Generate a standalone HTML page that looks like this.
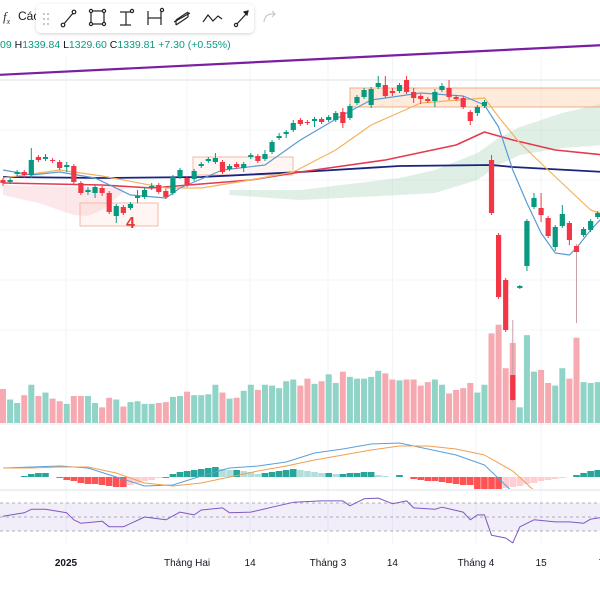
<!DOCTYPE html>
<html><head><meta charset="utf-8">
<style>
html,body{margin:0;padding:0;background:#fff;width:600px;height:600px;overflow:hidden;font-family:"Liberation Sans",sans-serif;}
svg{display:block}
</style></head>
<body>
<svg id="chart" width="600" height="600" viewBox="0 0 600 600" xmlns="http://www.w3.org/2000/svg">
  <defs>
    <clipPath id="macdClip"><rect x="0" y="425" width="600" height="64"/></clipPath>
    <clipPath id="mainClip"><rect x="0" y="56" width="600" height="366"/></clipPath>
    <filter id="sh" x="-10%" y="-30%" width="120%" height="160%"><feDropShadow dx="0" dy="1" stdDeviation="1.5" flood-color="#000" flood-opacity="0.18"/></filter>
  </defs>
  <g id="grid"></g>
  <g id="clouds" clip-path="url(#mainClip)"></g>
  <g id="boxes"></g>
  <g id="volume"></g>
  <g id="mas" clip-path="url(#mainClip)"></g>
  <g id="candles"></g>
  <g id="macd"></g>
  <g id="rsi"></g>
  <g id="xaxis"></g>
  <g id="header">
    <text x="3" y="21" font-family="Liberation Serif" font-style="italic" font-size="13" fill="#333">f<tspan font-size="8" dy="3">x</tspan></text>
    <text x="18" y="20" font-size="12" fill="#131722">Các</text>
    <g>
      <rect x="36" y="4" width="218" height="29" rx="5" fill="#fff" filter="url(#sh)"/>
      <g fill="#b2b5be"><circle cx="44" cy="14" r="1"/><circle cx="48" cy="14" r="1"/><circle cx="44" cy="19" r="1"/><circle cx="48" cy="19" r="1"/><circle cx="44" cy="24" r="1"/><circle cx="48" cy="24" r="1"/></g>
      <g stroke="#222" stroke-width="1.2" fill="none">
        <g><line x1="63" y1="25" x2="74" y2="12"/><circle cx="63" cy="25" r="1.8" fill="#fff"/><circle cx="74" cy="12" r="1.8" fill="#fff"/></g>
        <g><rect x="91" y="11" width="13" height="13"/><circle cx="91" cy="11" r="1.6" fill="#fff"/><circle cx="104" cy="11" r="1.6" fill="#fff"/><circle cx="91" cy="24" r="1.6" fill="#fff"/><circle cx="104" cy="24" r="1.6" fill="#fff"/></g>
        <g><line x1="120" y1="12" x2="131" y2="12"/><line x1="120" y1="25" x2="131" y2="25"/><line x1="126" y1="12" x2="126" y2="25"/><circle cx="132" cy="11" r="1.6" fill="#fff"/></g>
        <g><line x1="148" y1="11" x2="148" y2="25"/><line x1="161" y1="11" x2="161" y2="25"/><line x1="148" y1="18" x2="161" y2="18"/><circle cx="162" cy="10" r="1.6" fill="#fff"/></g>
        <g><path d="M176 20 L188 12 M176 25 L188 17 M176 20 L176 25 M188 12 L188 17"/><path d="M174 22 L190 13"/></g>
        <g><path d="M203 22 L208 15 L213 21 L218 16 L222 19"/></g>
        <g><line x1="236" y1="25" x2="247" y2="13"/><circle cx="236" cy="25" r="1.6" fill="#fff"/><path d="M244 12 L248 11 L247 15Z" fill="#222"/></g>
      </g>
    </g>
    <path d="M264 22 Q265 14 272 14 L275 14 M272 11 L275 14 L272 17" stroke="#c8cad0" stroke-width="1.2" fill="none"/>
    <text x="0" y="48" font-size="10.5" fill="#089981">09 <tspan fill="#131722">H</tspan>1339.84 <tspan fill="#131722">L</tspan>1329.60 <tspan fill="#131722">C</tspan>1339.81 +7.30 (+0.55%)</text>
  </g>
</svg>
<script>
const NS="http://www.w3.org/2000/svg";
// ---- candle data ----
const opens =[1220,1218,1226,1228,1225,1243,1241,1240,1238,1233,1234,1217,1208,1207,1212,1207,1184,1193,1192,1202,1203,1212,1215,1209,1207,1223,1222,1221,1234,1239,1238,1238,1231,1236,1232,1243,1244,1241,1248,1262,1266,1270,1280,1278,1279,1281,1280,1280,1288,1282,1297,1303,1295,1313,1315,1309,1309,1320,1308,1304,1301,1299,1310,1312,1303,1302,1288,1287,1294,1240,1165,1120,1025,1112,1134,1193,1192,1182,1153,1174,1177,1154,1165,1170,1183];
const highs =[1222,1222,1230,1230,1252,1245,1246,1242,1240,1238,1236,1219,1213,1215,1214,1209,1196,1195,1198,1210,1212,1217,1217,1211,1225,1232,1224,1231,1238,1243,1247,1240,1236,1238,1238,1247,1246,1250,1260,1267,1270,1280,1282,1280,1283,1283,1285,1289,1292,1296,1305,1312,1313,1324,1324,1312,1317,1324,1312,1306,1303,1311,1317,1320,1305,1304,1290,1295,1300,1245,1167,1122,1080,1115,1181,1207,1207,1184,1175,1195,1179,1156,1173,1181,1189];
const lows  =[1214,1216,1224,1222,1222,1238,1239,1237,1230,1228,1216,1205,1205,1202,1204,1186,1177,1185,1190,1197,1201,1210,1206,1201,1205,1221,1213,1219,1232,1237,1236,1226,1229,1231,1228,1241,1237,1239,1246,1260,1262,1268,1274,1275,1273,1276,1278,1278,1272,1280,1295,1301,1292,1311,1302,1304,1307,1306,1297,1296,1297,1293,1308,1300,1299,1291,1275,1284,1292,1185,1101,1068,998,1111,1129,1191,1178,1162,1149,1172,1155,1077,1163,1168,1181];
const closes=[1217,1220,1228,1225,1240,1240,1243,1239,1232,1235,1218,1207,1210,1213,1207,1188,1194,1187,1196,1204,1210,1214,1208,1203,1223,1230,1215,1229,1236,1241,1242,1228,1234,1233,1236,1245,1239,1246,1258,1264,1268,1277,1276,1277,1281,1278,1283,1287,1277,1294,1303,1310,1311,1317,1304,1307,1315,1308,1302,1301,1299,1308,1314,1303,1301,1293,1279,1293,1298,1187,1103,1070,1000,1114,1179,1202,1185,1164,1173,1186,1160,1148,1171,1179,1187];
const volumes=[39,27,23,32,44,31,35,28,25,22,31,31,31,23,18,29,27,19,24,25,22,22,23,24,30,31,36,32,32,33,44,35,28,29,37,44,38,44,43,40,48,50,43,51,45,48,56,46,59,53,51,51,53,60,57,50,49,50,50,43,47,50,44,34,38,40,46,35,44,103,113,63,92,18,101,59,61,46,43,63,51,98,47,46,47];
// ---- moving averages (candle index -> price) ----
const ma200Idx=[0,14,28,42,56,69,72,85];
const ma200Val=[1223,1222,1223,1228,1234,1235,1233,1228];
const ma50Idx=[0,14,21,35,42,54,64,68,72,78,85];
const ma50Val=[1217,1215,1212,1220,1228,1240,1255,1268,1260,1250,1245];
const ma20Idx=[0,8,14,23,28,35,41,47,52,59,68,70,73,77,83,85];
const ma20Val=[1222,1230,1224,1212,1212,1220,1228,1250,1275,1297,1302,1283,1257,1230,1190,1185];
const ma10Idx=[0,4,8,13,18,23,25,31,37,42,48,52,59,65,68,70,72,74,76,78,80,81,83,85];
const ma10Val=[1230,1225,1228,1222,1205,1202,1212,1230,1235,1260,1285,1300,1307,1304,1295,1273,1230,1197,1167,1147,1145,1152,1170,1185];
const trendIdx=[-1,85];
const trendVal=[1325,1355];
// ---- cloud ----
const pinkIdx=[0,5,10,12,14,17];
const pinkTop=[1215,1214,1213,1212,1212,1212];
const pinkBot=[1205,1197,1185,1184,1190,1208];
const greenIdx=[32,42,56,61,67,70,73,79,85];
const greenTop=[1210,1210,1222,1230,1247,1262,1273,1287,1297];
const greenBot=[1205,1200,1205,1207,1220,1235,1245,1252,1255];
// ---- MACD ----
const macdHist=[0,0,0,1,3,4,4,0,-1,-3,-4,-6,-7,-7,-8,-9,-10,-10,-8,-6,-4,-3,-1,-1,3,5,6,7,8,9,10,8,7,7,6,5,3,4,5,6,7,8,7,6,5,4,4,3,3,4,4,5,5,2,1,0,2,0,-2,-3,-4,-4,-5,-6,-7,-8,-8,-12,-12,-12,-12,-11,-10,-9,-7,-6,-4,-3,-2,-1,0,2,4,6,7];
const macdIdx=[0,4,8,12,16,20,24,28,32,36,40,44,48,52,56,60,64,68,72,76,85];
const macdLine=[9,10,11,9,0,-9,-8,1,9,11,15,24,28,33,34,28,22,12,-15,-20,-20];
const signalLine=[9,9,10,10,4,-6,-9,-6,0,6,11,17,22,27,31,31,28,22,6,-20,-20];
// ---- RSI ----
const rsiIdx=[0,3,4,6,9,10,11,14,15,17,20,23,25,27,28,31,32,35,38,41,45,48,49,51,53,55,57,58,61,62,65,66,67,68,69,71,72,73,75,78,80,82,83,85];
const rsiVal=[51,56,61,61,56,46,41,44,36,36,50,46,57,53,60,63,56,57,64,71,73,73,66,76,77,69,73,63,61,64,57,46,53,53,24,20,13,36,46,43,43,41,47,50];
// ---- axis labels ----
const xLabels=["2025","Tháng Hai","14","Tháng 3","14","Tháng 4","15","T"];
const xLabelIdx=[8.9,26,34.9,45.9,55,66.8,76,84.6];

// ---- scales ----
const xS=i=>3+i*7.08;
const yP=p=>1400-p;
const yV=v=>423-v*0.87;
const yM=v=>477-v;
const yR=v=>517-(v-50)*0.7;
function el(tag,attrs,parent){const e=document.createElementNS(NS,tag);for(const k in attrs)e.setAttribute(k,attrs[k]);parent.appendChild(e);return e;}
const G=id=>document.getElementById(id);

// grid
const grid=G('grid');
xLabelIdx.forEach(i=>{const l=el('line',{x1:xS(i),x2:xS(i),y1:56,y2:545,stroke:'#f0f3fa','stroke-width':1},grid);

});
[130,180,230,280,330].forEach(y=>{const l=el('line',{x1:0,x2:600,y1:y,y2:y,stroke:'#f3f5fa','stroke-width':1},grid);

});
[[80,'#dfe2ea'],[424,'#eceef3'],[490,'#dfe2ea']].forEach(([y,c])=>{const l=el('line',{x1:0,x2:600,y1:y,y2:y,stroke:c,'stroke-width':1},grid);

});

// clouds
function band(idx,top,bot,fill,name){
  let d='M'+idx.map((i,k)=>xS(i)+' '+yP(top[k])).join(' L');
  for(let k=idx.length-1;k>=0;k--)d+=' L'+xS(idx[k])+' '+yP(bot[k]);
  const p=el('path',{d:d+'Z',fill:fill},G('clouds'));
  
  
}
band(pinkIdx,pinkTop,pinkBot,'rgba(247,190,195,0.35)','cloud-bearish');
band(greenIdx,greenTop,greenBot,'rgba(178,214,190,0.4)','cloud-bullish');

// boxes
const boxes=G('boxes');
const b1=el('rect',{x:80,y:203,width:78,height:23,fill:'rgba(255,205,190,0.18)',stroke:'#f3b8a6','stroke-width':1},boxes);


const b2=el('rect',{x:193,y:157,width:100,height:18,fill:'rgba(255,205,190,0.18)',stroke:'#f3b8a6','stroke-width':1},boxes);


const b3=el('rect',{x:350,y:88,width:260,height:19,fill:'rgba(255,190,140,0.3)',stroke:'#f2ac80','stroke-width':1},boxes);


const t4=el('text',{x:126,y:228,'font-size':16,'font-weight':'bold',fill:'#e53935'},boxes);
t4.textContent='4';



// volume
const n=Math.min(opens.length,closes.length,volumes.length);
for(let i=0;i<n;i++){
  const up=closes[i]>=opens[i];
  const r=el('rect',{x:xS(i)-3,y:yV(volumes[i]),width:6,height:volumes[i]*0.87,fill:up?'#8fd4c7':'#f7a9b1'},G('volume'));
  
  
}

// moving averages
function line(idx,val,ys,color,w,parent,name){
  const pts=idx.map((i,k)=>xS(i)+','+ys(val[k])).join(' ');
  const p=el('polyline',{points:pts,fill:'none',stroke:color,'stroke-width':w,'stroke-linejoin':'round'},parent);
  
  
}
line(ma200Idx,ma200Val,yP,'#1a237e',1.8,G('mas'),'ma-200-line');
line(ma50Idx,ma50Val,yP,'#e53950',1.6,G('mas'),'ma-50-line');
line(ma20Idx,ma20Val,yP,'#f2b35e',1.2,G('mas'),'ma-20-line');
line(ma10Idx,ma10Val,yP,'#5b9bd5',1.2,G('mas'),'ma-10-line');
line(trendIdx,trendVal,yP,'#7b1fa2',2.2,G('header'),'trend-line');

// candles
for(let i=0;i<n;i++){
  const up=closes[i]>=opens[i];
  const c=up?'#089981':'#f23645';
  const g=el('g',{},G('candles'));
  
  
  el('line',{x1:xS(i),x2:xS(i),y1:yP(highs[i]),y2:yP(lows[i]),stroke:i==72||i==81?'#c9a0a6':c,'stroke-width':1},g);
  const top=yP(Math.max(opens[i],closes[i])),bot=yP(Math.min(opens[i],closes[i]));
  el('rect',{x:xS(i)-2.6,y:top,width:5.2,height:Math.max(1,bot-top),fill:c},g);
}

// MACD
const mg=el('g',{'clip-path':'url(#macdClip)'},G('macd'));
for(let i=0;i<macdHist.length;i++){
  const v=macdHist[i],prev=i?macdHist[i-1]:0;
  let col;
  if(v>=0)col=v>=prev?'#26a69a':'#b2dfdb';else col=v<=prev?'#ff5252':'#ffcdd2';
  const r=el('rect',{x:xS(i)-3.3,y:v>=0?yM(v):yM(0),width:6.6,height:Math.abs(v),fill:col},mg);
  
  
}
line(macdIdx,macdLine,yM,'#5aa0d8',1,mg,'macd-line');
line(macdIdx,signalLine,yM,'#f0a050',1,mg,'signal-line');

// RSI
const rg=G('rsi');
const bandR=el('rect',{x:0,y:yR(70),width:600,height:yR(30)-yR(70),fill:'rgba(126,87,194,0.1)'},rg);


[70,50,30].forEach(v=>{const l=el('line',{x1:0,x2:600,y1:yR(v),y2:yR(v),stroke:'#9598a1','stroke-width':0.8,'stroke-dasharray':'3,3'},rg);

});
line(rsiIdx,rsiVal,yR,'#7e57c2',1,rg,'rsi-line');

// x-axis
xLabels.forEach((t,k)=>{
  const tx=el('text',{x:xS(xLabelIdx[k]),y:566,'font-size':10,'text-anchor':'middle',fill:'#131722','font-weight':t==='2025'?'bold':'normal'},G('xaxis'));
  tx.textContent=t;
  
  
});
</script>
</body></html>
